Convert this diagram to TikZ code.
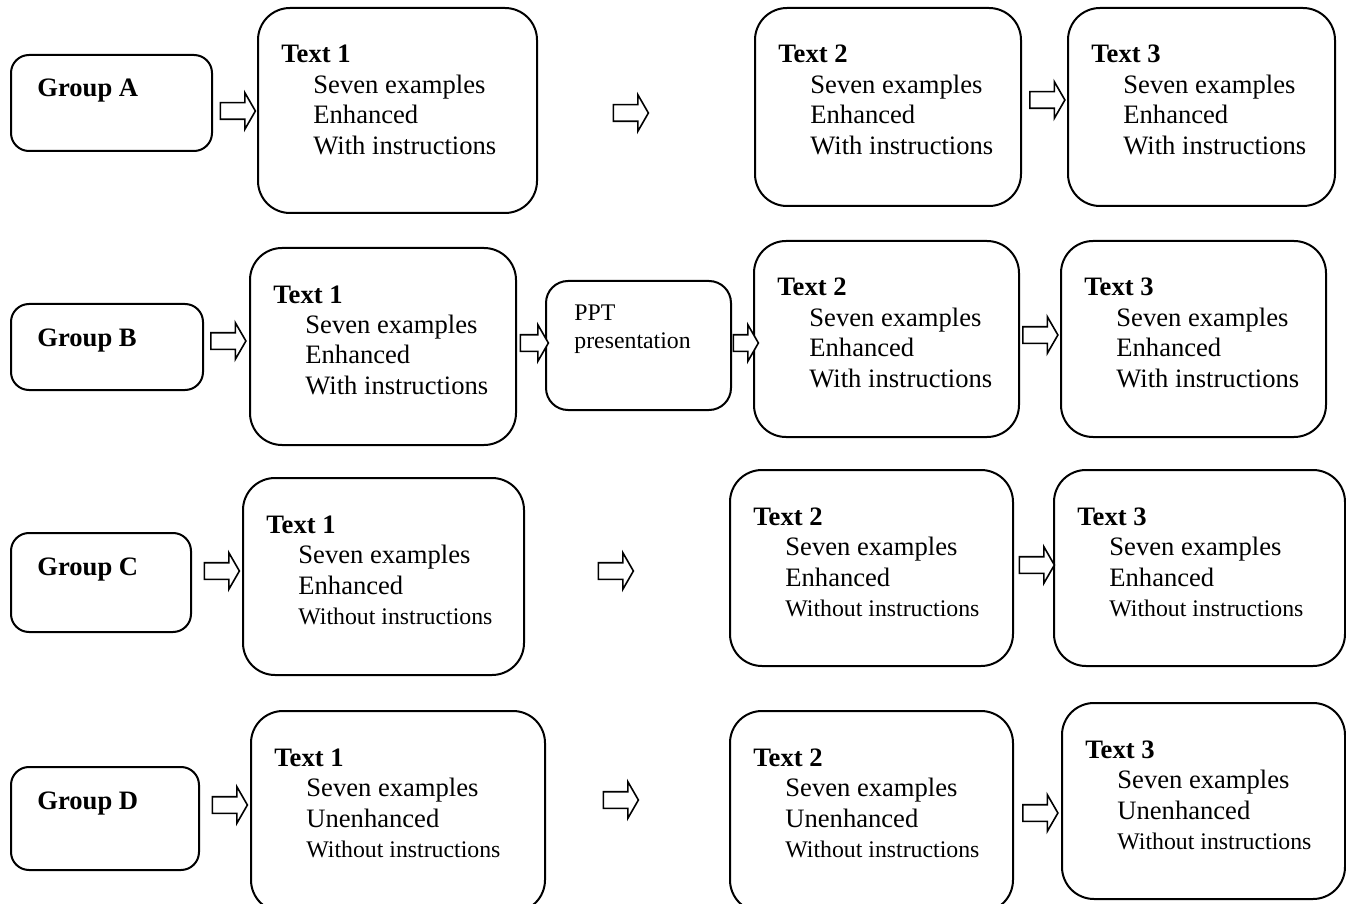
\documentclass[tikz,border=0pt]{standalone}
\usepackage{fontspec}
\setmainfont{Liberation Serif}
\usetikzlibrary{positioning,fit,shapes.arrows}

\newcommand{\mainsize}{\fontsize{13.3}{15.25}\selectfont}
\newcommand{\smallsize}{\fontsize{11.9}{15.25}\selectfont}
\newcommand{\wo}{{\smallsize Without instructions}}

% group box: name, x1, y1, x2, y2, label
\newcommand{\grp}[6]{%
	\node[groupbox, fit={(#2,#3) (#4,#5)}] (#1) {};
	\node[grouptext] (#1-txt) at (#2+26,#3+42) {#6};
}
% text box: name, x1, y1, x2, y2, title, 2nd and 3rd line
\newcommand{\stage}[8]{%
	\node[stagebox, fit={(#2,#3) (#4,#5)}] (#1) {};
	\node[stagetext] (#1-txt) at (#2+23,#3+55) {\begin{tabular}[t]{@{}l@{}}
		\textbf{#6}\\
		\hspace*{16pt}Seven examples\\
		\hspace*{16pt}#7\\
		\hspace*{16pt}#8
	\end{tabular}};
}

\begin{document}
\begin{tikzpicture}[
			x=0.5pt, y=-0.5pt,
			stagebox/.style={rectangle, draw, line width=1pt, rounded corners=16pt, inner sep=0pt},
			groupbox/.style={stagebox, rounded corners=9pt},
			pptbox/.style={stagebox, rounded corners=11pt},
			stagetext/.style={anchor=base west, inner sep=0pt, font=\mainsize},
			grouptext/.style={anchor=base west, inner sep=0pt, font=\mainsize\bfseries},
			flow/.style={single arrow, draw, fill=white, line width=0.8pt,
				inner xsep=0pt, inner ysep=3.75pt, minimum height=17.5pt,
				single arrow head extend=5pt, single arrow tip angle=120},
		]

		\useasboundingbox (0,0) rectangle (1346,904);
		\clip (0,0) rectangle (1346,904);

		% group A
		\grp{ga}{11}{55}{212}{151}{Group A}
		\stage{a1}{258}{8}{537}{213}{Text 1}{Enhanced}{With instructions}
		\stage{a2}{755}{8}{1021}{206}{Text 2}{Enhanced}{With instructions}
		\stage{a3}{1068}{8}{1335}{206}{Text 3}{Enhanced}{With instructions}

		\node[flow] (ga-a1) at (235.5,111) {};
		\node[flow] (a1-a2) at (628.5,113) {};
		\node[flow] (a2-a3) at (1045,100) {};

		% group B
		\grp{gb}{11}{304}{203}{390}{Group B}
		\stage{b1}{250}{248}{516}{445}{Text 1}{Enhanced}{With instructions}
		\node[pptbox, fit={(546,281) (731,410)}] (ppt) {};
		\node[stagetext, font=\fontsize{11.9}{14}\selectfont] (ppt-txt) at (574,321)
			{\begin{tabular}[t]{@{}l@{}}PPT\\presentation\end{tabular}};
		\stage{b2}{754}{241}{1019}{437}{Text 2}{Enhanced}{With instructions}
		\stage{b3}{1061}{241}{1326}{437}{Text 3}{Enhanced}{With instructions}

		\node[flow] (gb-b1) at (226,341) {};
		\node[flow, minimum height=14pt] (b1-ppt) at (532,343) {};
		\node[flow, minimum height=12.5pt] (ppt-b2) at (743.5,343) {};
		\node[flow] (b2-b3) at (1038,335) {};

		% group C
		\grp{gc}{11}{533}{191}{632}{Group C}
		\stage{c1}{243}{478}{524}{675}{Text 1}{Enhanced}{\wo}
		\stage{c2}{730}{470}{1013}{666}{Text 2}{Enhanced}{\wo}
		\stage{c3}{1054}{470}{1345}{666}{Text 3}{Enhanced}{\wo}

		\node[flow] (gc-c1) at (219.5,571) {};
		\node[flow] (c1-c2) at (613.5,571) {};
		\node[flow] (c2-c3) at (1034.5,565) {};

		% group D
		\grp{gd}{11}{767}{199}{870}{Group D}
		\stage{d1}{251}{711}{545}{912}{Text 1}{Unenhanced}{\wo}
		\stage{d2}{730}{711}{1013}{912}{Text 2}{Unenhanced}{\wo}
		\stage{d3}{1062}{703}{1345}{899}{Text 3}{Unenhanced}{\wo}

		\node[flow] (gd-d1) at (227.5,805) {};
		\node[flow] (d1-d2) at (618.5,800) {};
		\node[flow] (d2-d3) at (1038,813) {};

		\end{tikzpicture}
\end{document}
